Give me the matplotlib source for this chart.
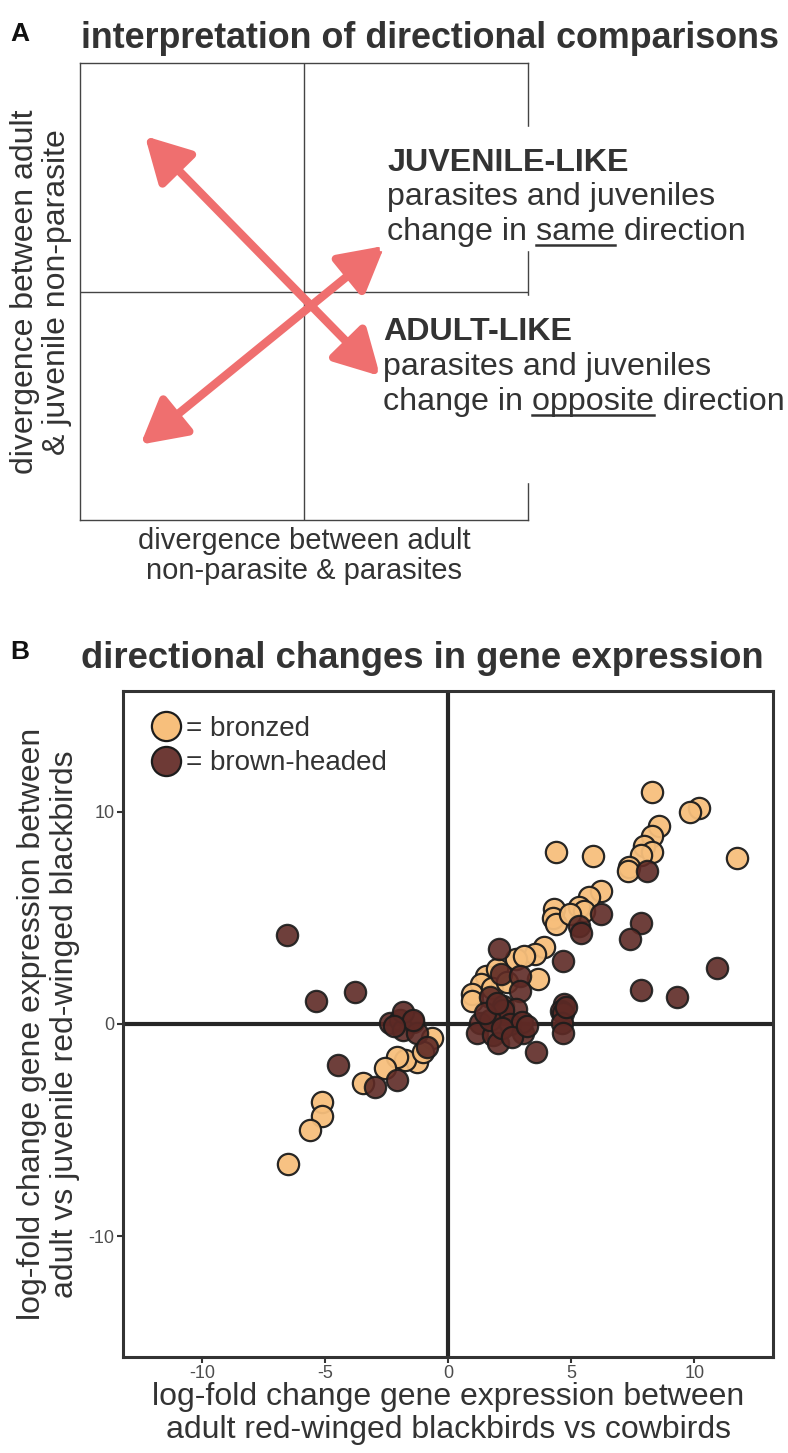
import matplotlib
matplotlib.use("Agg")
import matplotlib.pyplot as plt
from matplotlib.lines import Line2D
from matplotlib.patches import Rectangle

plt.rcParams['font.family'] = ['Liberation Sans', 'DejaVu Sans']
plt.rcParams['axes.unicode_minus'] = False

# Panel B values (log-fold changes)
bronzed_x = [8.30, 10.19, 9.81, 8.57, 8.28, 7.96, 8.30, 7.83, 7.36, 7.33,
             4.39, 5.87, 11.74, 6.21, 5.74, 5.33, 5.54, 4.30, 4.26, 4.39,
             3.88, 3.52, 2.77, 3.65, 1.56, 1.36, 0.96, 0.96, 2.0, 1.8,
             2.4, -0.66, -1.27, -1.74, -2.08, -2.56, -3.44, -5.12, -5.12, -5.6,
             -6.5, -1.0, 4.95, 3.1]
bronzed_y = [10.95, 10.2, 10.0, 9.35, 8.85, 8.4, 8.1, 7.95, 7.4, 7.2,
             8.1, 7.9, 7.85, 6.25, 6.0, 5.5, 5.35, 5.4, 5.0, 4.7,
             3.65, 3.3, 3.05, 2.1, 2.27, 1.88, 1.40, 1.09, 2.6, 1.7,
             2.0, -0.68, -1.78, -1.70, -1.54, -2.09, -2.80, -3.7, -4.35, -5.0,
             -6.6, -1.3, 5.2, 3.2]
brown_x = [8.10, 6.21, 5.33, 5.40, 7.83, 7.38, 2.07, 4.66, 10.93, 7.83,
           9.31, 2.17, 2.91, 2.91, 1.70, 2.23, 4.73, 4.60, 2.77, 1.30,
           2.24, 4.68, 4.61, 4.68, 4.81, 1.16, 1.84, 2.04, 3.06, 3.57,
           2.5, 3.0, 1.7, 2.2, 2.6, 3.2, 1.5, 2.0, -6.54, -5.37,
           -3.77, -4.45, -2.35, -1.95, -1.41, -1.81, -1.27, -0.86, -2.08, -2.96,
           -1.81, -1.42, -2.2]
brown_y = [7.2, 5.2, 4.6, 4.3, 4.75, 4.0, 3.55, 2.95, 2.65, 1.61,
           1.25, 2.34, 2.27, 1.56, 1.25, 0.86, 0.93, 0.62, 0.70, 0.03,
           0.66, 0.50, 0.03, -0.44, 0.82, -0.44, -0.52, -0.91, -0.44, -1.31,
           0.0, 0.1, 0.2, -0.2, -0.6, -0.1, 0.5, 1.0, 4.2, 1.08,
           1.52, -1.93, 0.03, 0.19, 0.11, -0.28, -0.44, -1.07, -2.65, -2.96,
           0.58, 0.19, -0.1]
x_ticks = [-10, -5, 0, 5, 10]
y_ticks = [-10, 0, 10]
legend_labels = ['= bronzed', '= brown-headed']

# Panel A schematic arrows, tip to tip in -1..1 units
adult_arrow = [(-0.71, 0.68), (0.34, -0.37)]
juvenile_arrow = [(-0.73, -0.67), (0.36, 0.20)]

bronze = '#F7BF7C'
brown = '#5E2A25'
edge = '#1c1c1c'
txt = '#333333'
arrow_col = '#EF6F6F'

W, H = 788, 1453
fig = plt.figure(figsize=(W / 100, H / 100), dpi=100)


def fx(x):
    return x / W


def fy(y):
    return 1 - y / H


# ---------------- panel A ----------------
fig.text(fx(10), fy(34), 'A', fontsize=19, weight='bold', va='center', color='#111')
fig.text(fx(81), fy(38), 'interpretation of directional comparisons', fontsize=25.8,
         weight='bold', va='center', color=txt)

axA = fig.add_axes([fx(80), fy(520), 448 / W, 457 / H])
axA.set_xlim(-1, 1)
axA.set_ylim(-1, 1)
axA.set_xticks([])
axA.set_yticks([])
for s in axA.spines.values():
    s.set_linewidth(1)
    s.set_color('#444')
axA.axhline(0, color='#444', lw=1)
axA.axvline(0, color='#444', lw=1)
for tip1, tip2 in (adult_arrow, juvenile_arrow):
    axA.annotate('', xy=tip2, xytext=tip1,
                 arrowprops=dict(arrowstyle='<|-|>,head_length=1.0,head_width=0.55',
                                 mutation_scale=27, lw=6, color=arrow_col,
                                 shrinkA=0, shrinkB=0))

fig.text(fx(41), fy(292), 'divergence between adult\n& juvenile non-parasite',
         rotation=90, fontsize=23, ha='center', va='center', color=txt, linespacing=1.05)
fig.text(fx(304), fy(556), 'divergence between adult\nnon-parasite & parasites',
         fontsize=21, ha='center', va='center', color=txt, linespacing=1.05)

# white blocks hide the right frame behind the text, as in the original
fig.patches.append(Rectangle((fx(380), fy(250)), 1 - fx(380), (250 - 127) / H,
                             transform=fig.transFigure, color='white', zorder=2))
fig.patches.append(Rectangle((fx(378), fy(482)), 1 - fx(378), (482 - 296) / H,
                             transform=fig.transFigure, color='white', zorder=2))

fig.canvas.draw()
renderer = fig.canvas.get_renderer()


def text_width(s, size):
    t = fig.text(0, 0, s, fontsize=size)
    w = t.get_window_extent(renderer).width
    t.remove()
    return w


def underlined(x, y, pre, word, post, size):
    fig.text(fx(x), fy(y), pre + word + post, fontsize=size, va='baseline', color=txt)
    w_all = text_width(pre + word, size)
    w_word = text_width(word, size)
    x1 = x + w_all
    x0 = x1 - w_word
    fig.add_artist(Line2D([fx(x0), fx(x1)], [fy(y + 5), fy(y + 5)],
                          transform=fig.transFigure, color=txt, lw=1.8, zorder=6))


fs = 23.2
fig.text(fx(387), fy(171), 'JUVENILE-LIKE', fontsize=fs, weight='bold', va='baseline', color=txt)
fig.text(fx(387), fy(205), 'parasites and juveniles', fontsize=fs, va='baseline', color=txt)
underlined(387, 240, 'change in ', 'same', ' direction', fs)
fig.text(fx(383), fy(340), 'ADULT-LIKE', fontsize=fs, weight='bold', va='baseline', color=txt)
fig.text(fx(383), fy(375), 'parasites and juveniles', fontsize=fs, va='baseline', color=txt)
underlined(383, 410, 'change in ', 'opposite', ' direction', fs)

# ---------------- panel B ----------------
fig.text(fx(10), fy(652), 'B', fontsize=19, weight='bold', va='center', color='#111')
fig.text(fx(81), fy(658), 'directional changes in gene expression', fontsize=26.3,
         weight='bold', va='center', color=txt)

axB = fig.add_axes([fx(123), fy(1357), 650 / W, 666 / H])
axB.set_xlim(-13.2, 13.2)
axB.set_ylim(-15.7, 15.7)
for s in axB.spines.values():
    s.set_linewidth(2.2)
    s.set_color('#333')
axB.axhline(0, color='#262626', lw=3, zorder=1)
axB.axvline(0, color='#262626', lw=3, zorder=1)
axB.scatter(bronzed_x, bronzed_y, s=235, c=bronze, edgecolors=edge, linewidths=1.6,
            alpha=0.95, zorder=3)
axB.scatter(brown_x, brown_y, s=235, c=brown, edgecolors=edge, linewidths=1.6,
            alpha=0.9, zorder=3)
axB.set_xticks(x_ticks)
axB.set_yticks(y_ticks)
axB.tick_params(length=4, width=1.5, color='#333', labelcolor='#4D4D4D',
                labelsize=13, pad=2)
axB.set_xlabel('log-fold change gene expression between\nadult red-winged blackbirds vs cowbirds',
               fontsize=23, color=txt, linespacing=1.1, labelpad=0)
axB.set_ylabel('log-fold change gene expression between\nadult vs juvenile red-winged blackbirds',
               fontsize=23, color=txt, linespacing=1.15, labelpad=6)

handles = [Line2D([], [], marker='o', ls='', markersize=21, markerfacecolor=bronze,
                  markeredgecolor=edge, markeredgewidth=1.6),
           Line2D([], [], marker='o', ls='', markersize=21, markerfacecolor='#6E3A36',
                  markeredgecolor=edge, markeredgewidth=1.6)]
axB.legend(handles, legend_labels, loc='upper left', frameon=False, fontsize=20,
           handletextpad=0.05, handlelength=1.3, borderaxespad=0.5, labelspacing=0.3,
           labelcolor=txt)

fig.savefig('out.png', dpi=100)
